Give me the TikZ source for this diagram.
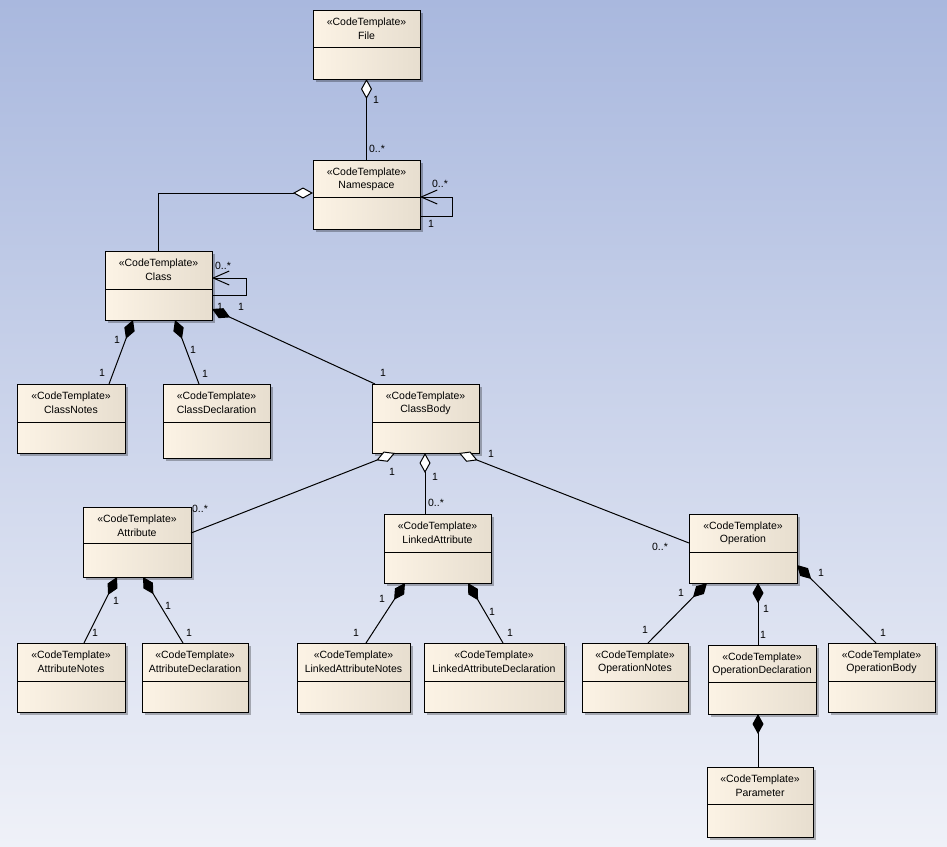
\documentclass[tikz,border=0pt]{standalone}
\usepackage{fontspec}
\setmainfont{Liberation Sans}
\usetikzlibrary{arrows.meta,calc,shadows}
\definecolor{bgtop}{HTML}{A9B8DE}
\definecolor{bgbot}{HTML}{EFF1F8}
\definecolor{boxl}{HTML}{FCF3E5}
\definecolor{boxm}{HTML}{F6ECDC}
\definecolor{boxr}{HTML}{E7DECF}
\tikzset{
  ctbox/.style={draw=black, line width=1pt, inner sep=0pt, outer sep=0pt,
    left color=boxl, middle color=boxm, right color=boxr,
    drop shadow={shadow xshift=3pt, shadow yshift=-3pt, fill=black, opacity=0.28}},
  boxline/.style={draw=black, line width=1pt},
  txt/.style={font=\fontsize{10.5}{12}\selectfont, inner sep=0pt},
  lbl/.style={font=\fontsize{10.5}{12}\selectfont, inner sep=0pt},
  conn/.style={draw=black, line width=1pt},
  aggr/.style={conn, {Diamond[length=20pt,width=11pt,fill=white,line width=1pt]}-},
  comp/.style={conn, {Diamond[length=20pt,width=11pt,fill=black,line width=1pt]}-},
  selfarrow/.style={conn, {Straight Barb[length=16pt,width=14pt,line width=1pt]}-},
}
\newcommand{\ctbox}[7]{%
  \node[ctbox, minimum width={(#4-#2)*1pt}, minimum height={(#5-#3)*1pt}] (#1) at ({(#2+#4)/2},{(#3+#5)/2}) {};
  \draw[boxline] ($(#1.north west)+(0,#6)$) -- ($(#1.north east)+(0,#6)$);
  \node[txt] (#1-st) at ($(#1.north)+(0,13)$) {«CodeTemplate»};
  \node[txt] (#1-nm) at ($(#1.north)+(0,26)$) {#7};
}
\begin{document}
\begin{tikzpicture}[x=1pt,y=-1pt]
\useasboundingbox (0,0) rectangle (947,846);
\shade[top color=bgtop, bottom color=bgbot] (0,0) rectangle (947,846);

% boxes
\ctbox{File}{313}{10}{420}{79}{37}{File}
\ctbox{Namespace}{313}{160}{420}{229}{37}{Namespace}
\ctbox{Class}{105}{251}{212}{320}{38}{Class}
\ctbox{ClassNotes}{17}{384}{125}{453}{38}{ClassNotes}
\ctbox{ClassDeclaration}{163}{384}{270}{458}{38}{ClassDeclaration}
\ctbox{ClassBody}{372}{384}{479}{453}{38}{ClassBody}
\ctbox{Attribute}{83}{507}{191}{577}{36}{Attribute}
\ctbox{AttributeNotes}{17}{643}{125}{712}{38}{AttributeNotes}
\ctbox{AttributeDeclaration}{142}{643}{248}{712}{38}{AttributeDeclaration}
\ctbox{LinkedAttribute}{384}{514}{491}{583}{38}{LinkedAttribute}
\ctbox{LinkedAttributeNotes}{297}{643}{410}{712}{38}{LinkedAttributeNotes}
\ctbox{LinkedAttributeDeclaration}{424}{643}{564}{712}{38}{LinkedAttributeDeclaration}
\ctbox{Operation}{689}{514}{797}{583}{38}{Operation}
\ctbox{OperationNotes}{582}{643}{688}{712}{38}{OperationNotes}
\ctbox{OperationDeclaration}{708}{645}{816}{714}{37}{OperationDeclaration}
\ctbox{OperationBody}{828}{643}{935}{712}{38}{OperationBody}
\ctbox{Parameter}{707}{767}{813}{837}{37}{Parameter}

% multiplicity labels
\node[lbl] (l1) at (376,100) {1};
\node[lbl] (l2) at (377,149) {0..*};
\node[lbl] (l3) at (440,184) {0..*};
\node[lbl] (l4) at (431,224) {1};
\node[lbl] (l5) at (223,266) {0..*};
\node[lbl] (l6) at (220,307) {1};
\node[lbl] (l7) at (241,307) {1};
\node[lbl] (l8) at (383,373) {1};
\node[lbl] (l9) at (117,340) {1};
\node[lbl] (l10) at (102,373) {1};
\node[lbl] (l11) at (193,350) {1};
\node[lbl] (l12) at (205,374) {1};
\node[lbl] (l13) at (392,472) {1};
\node[lbl] (l14) at (200,509) {0..*};
\node[lbl] (l15) at (435,477) {1};
\node[lbl] (l16) at (436,503) {0..*};
\node[lbl] (l17) at (491,454) {1};
\node[lbl] (l18) at (660,547) {0..*};
\node[lbl] (l19) at (116,601) {1};
\node[lbl] (l20) at (95,633) {1};
\node[lbl] (l21) at (168,606) {1};
\node[lbl] (l22) at (189,633) {1};
\node[lbl] (l23) at (382,599) {1};
\node[lbl] (l24) at (356,633) {1};
\node[lbl] (l25) at (492,612) {1};
\node[lbl] (l26) at (510,633) {1};
\node[lbl] (l27) at (681,593) {1};
\node[lbl] (l28) at (645,630) {1};
\node[lbl] (l29) at (766,609) {1};
\node[lbl] (l30) at (763,635) {1};
\node[lbl] (l31) at (821,573) {1};
\node[lbl] (l32) at (883,633) {1};

% connectors
\draw[aggr] (File.south) -- (Namespace.north);
\draw[selfarrow] ($(Namespace.north east)+(0,37)$) -- ++(32,0) -- ++(0,19) -- ($(Namespace.north east)+(0,56)$);
\draw[aggr] ($(Namespace.north west)+(0,33)$) -| (Class.north);
\draw[selfarrow] ($(Class.north east)+(0,27)$) -- ++(34,0) -- ++(0,17) -- ($(Class.north east)+(0,44)$);
\draw[comp] ($(Class.south east)+(0,-11)$) -- ($(ClassBody.north west)+(3,0)$);
\draw[comp] ($(Class.south west)+(28,0)$) -- ($(ClassNotes.north west)+(92,0)$);
\draw[comp] ($(Class.south west)+(70,0)$) -- ($(ClassDeclaration.north west)+(36,0)$);
\draw[aggr] ($(ClassBody.south west)+(23,0)$) -- ($(Attribute.north east)+(0,26)$);
\draw[aggr] ($(ClassBody.south west)+(53,0)$) -- ($(LinkedAttribute.north west)+(41,0)$);
\draw[aggr] ($(ClassBody.south west)+(87,0)$) -- ($(Operation.north west)+(0,29)$);
\draw[comp] ($(Attribute.south west)+(34,0)$) -- ($(AttributeNotes.north west)+(67,0)$);
\draw[comp] ($(Attribute.south west)+(60,0)$) -- ($(AttributeDeclaration.north west)+(41,0)$);
\draw[comp] ($(LinkedAttribute.south west)+(21,0)$) -- ($(LinkedAttributeNotes.north west)+(69,0)$);
\draw[comp] ($(LinkedAttribute.south west)+(84,0)$) -- ($(LinkedAttributeDeclaration.north west)+(79,0)$);
\draw[comp] ($(Operation.south west)+(18,0)$) -- ($(OperationNotes.north west)+(66,0)$);
\draw[comp] ($(Operation.south west)+(69,0)$) -- ($(OperationDeclaration.north west)+(50,0)$);
\draw[comp] ($(Operation.north east)+(0,51)$) -- ($(OperationBody.north west)+(48,0)$);
\draw[comp] ($(OperationDeclaration.south west)+(50,0)$) -- ($(Parameter.north west)+(51,0)$);
\end{tikzpicture}
\end{document}
